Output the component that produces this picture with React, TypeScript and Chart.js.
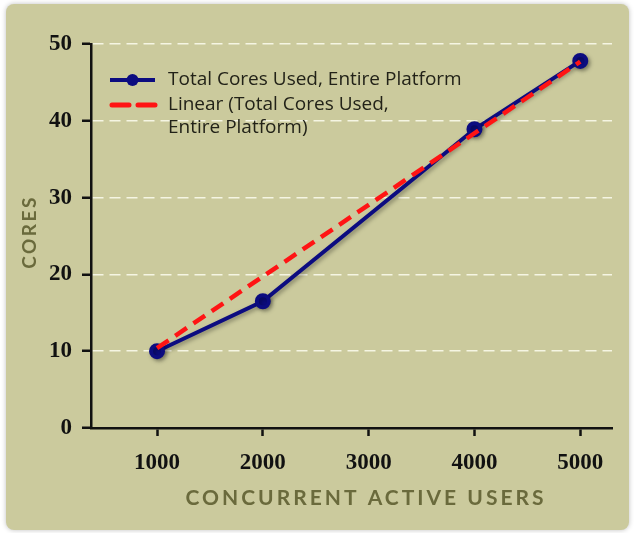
import React, { useEffect, useRef } from "react";
import { Chart, registerables } from "chart.js";

Chart.register(...registerables);

const usersX = [1000, 2000, 4000, 5000];
const coresUsed = [10, 16.5, 38.9, 47.8];
const trendX = [1000, 5000];
const trendY = [10.4, 47.7];
const xTickValues = [1000, 2000, 3000, 4000, 5000];
const seriesName = "Total Cores Used, Entire Platform";
const trendNameLines = ["Linear (Total Cores Used,", "Entire Platform)"];
const xTitle = "CONCURRENT ACTIVE USERS";
const yTitle = "CORES";

const BLUE = "#0c0c80";
const RED = "#ff1414";
const OLIVE = "#6a6a3c";

export default function App() {
  const ref = useRef<HTMLCanvasElement | null>(null);

  useEffect(() => {
    if (!ref.current) return;

    const overlay = {
      id: "overlay",
      afterDraw(chart: any) {
        const ctx = chart.ctx;
        const a = chart.chartArea;
        ctx.save();
        // legend
        const lx0 = a.left + 19;
        const lx1 = a.left + 64;
        const y1 = a.top + 36;
        const y2 = a.top + 61;
        const y3 = a.top + 84;
        ctx.lineCap = "butt";
        ctx.strokeStyle = BLUE;
        ctx.lineWidth = 4;
        ctx.beginPath();
        ctx.moveTo(lx0, y1);
        ctx.lineTo(lx1, y1);
        ctx.stroke();
        ctx.fillStyle = BLUE;
        ctx.beginPath();
        ctx.arc((lx0 + lx1) / 2, y1, 6, 0, Math.PI * 2);
        ctx.fill();
        ctx.strokeStyle = RED;
        ctx.lineWidth = 5;
        ctx.lineCap = "round";
        ctx.setLineDash([17, 9]);
        ctx.beginPath();
        ctx.moveTo(lx0 + 2, y2);
        ctx.lineTo(lx1, y2);
        ctx.stroke();
        ctx.setLineDash([]);
        ctx.lineCap = "butt";
        ctx.fillStyle = "#222218";
        ctx.font = "19px 'Open Sans'";
        ctx.textBaseline = "middle";
        ctx.textAlign = "left";
        ctx.fillText(seriesName, lx1 + 13, y1);
        ctx.fillText(trendNameLines[0], lx1 + 13, y2);
        ctx.fillText(trendNameLines[1], lx1 + 13, y3);
        // axis titles
        ctx.fillStyle = OLIVE;
        ctx.font = "bold 21px Lato";
        (ctx as any).letterSpacing = "3px";
        ctx.textAlign = "center";
        ctx.fillText(xTitle, 366, 498);
        ctx.font = "bold 19px Lato";
        (ctx as any).letterSpacing = "2.5px";
        ctx.translate(30, 232);
        ctx.rotate(-Math.PI / 2);
        ctx.fillText(yTitle, 0, 0);
        ctx.restore();
      },
    };

    const shadow = {
      id: "shadow",
      beforeDatasetDraw(chart: any, args: any) {
        if (args.index === 1) {
          const ctx = chart.ctx;
          ctx.save();
          ctx.shadowColor = "rgba(0,0,0,0.35)";
          ctx.shadowBlur = 4;
          ctx.shadowOffsetX = 2;
          ctx.shadowOffsetY = 2;
        }
      },
      afterDatasetDraw(chart: any, args: any) {
        if (args.index === 1) chart.ctx.restore();
      },
    };

    const tickFont = { family: "'Liberation Serif', serif", size: 23, weight: "bold" as const };

    const chart = new Chart(ref.current, {
      type: "line",
      data: {
        datasets: [
          {
            label: trendNameLines.join(" "),
            data: trendX.map((x, i) => ({ x, y: trendY[i] })),
            borderColor: RED,
            borderWidth: 4.5,
            borderDash: [14, 8],
            pointRadius: 0,
            fill: false,
          },
          {
            label: seriesName,
            data: usersX.map((x, i) => ({ x, y: coresUsed[i] })),
            borderColor: BLUE,
            backgroundColor: BLUE,
            borderWidth: 4,
            pointRadius: 6,
            pointBackgroundColor: BLUE,
            pointBorderColor: BLUE,
            fill: false,
          },
        ],
      },
      options: {
        animation: false,
        responsive: false,
        devicePixelRatio: 1,
        layout: { padding: { top: 44, right: 25, left: 0, bottom: 0 } },
        plugins: { legend: { display: false }, tooltip: { enabled: false } },
        scales: {
          x: {
            type: "linear",
            min: 376,
            max: 5300,
            afterBuildTicks: (s: any) => {
              s.ticks = xTickValues.map((v) => ({ value: v }));
            },
            afterFit: (s: any) => {
              s.height = 105;
            },
            grid: {
              drawOnChartArea: false,
              drawTicks: true,
              tickLength: 8,
              tickColor: "#111",
              tickWidth: 2.5,
            },
            border: { display: true, color: "#111", width: 2.5 },
            ticks: {
              font: tickFont,
              color: "#111",
              padding: 13,
              maxRotation: 0,
              callback: (v: any) => String(v),
            },
          },
          y: {
            min: 0,
            max: 50,
            afterFit: (s: any) => {
              s.width = 91;
            },
            grid: {
              color: (c: any) => (c.tick && c.tick.value === 0 ? "rgba(0,0,0,0)" : "rgba(250,250,235,0.9)"),
              lineWidth: 1.5,
              drawTicks: true,
              tickLength: 9,
              tickColor: "#111",
              tickWidth: 2.5,
              tickBorderDash: [],
            } as any,
            border: { display: true, color: "#111", width: 2.5, dash: [11, 6] },
            ticks: {
              stepSize: 10,
              font: tickFont,
              color: "#111",
              padding: 10,
            },
          },
        },
      } as any,
      plugins: [overlay, shadow],
    });

    return () => chart.destroy();
  }, []);

  return (
    <div style={{ position: "absolute", left: 0, top: 0, width: 637, height: 533, background: "#fff" }}>
      <div
        style={{
          position: "absolute",
          left: 6,
          top: 4,
          width: 623,
          height: 526,
          background: "#cbca9d",
          borderRadius: 8,
          boxShadow: "0 0 5px rgba(0,0,0,0.25)",
        }}
      />
      <canvas ref={ref} width={637} height={533} style={{ position: "absolute", left: 0, top: 0 }} />
    </div>
  );
}
